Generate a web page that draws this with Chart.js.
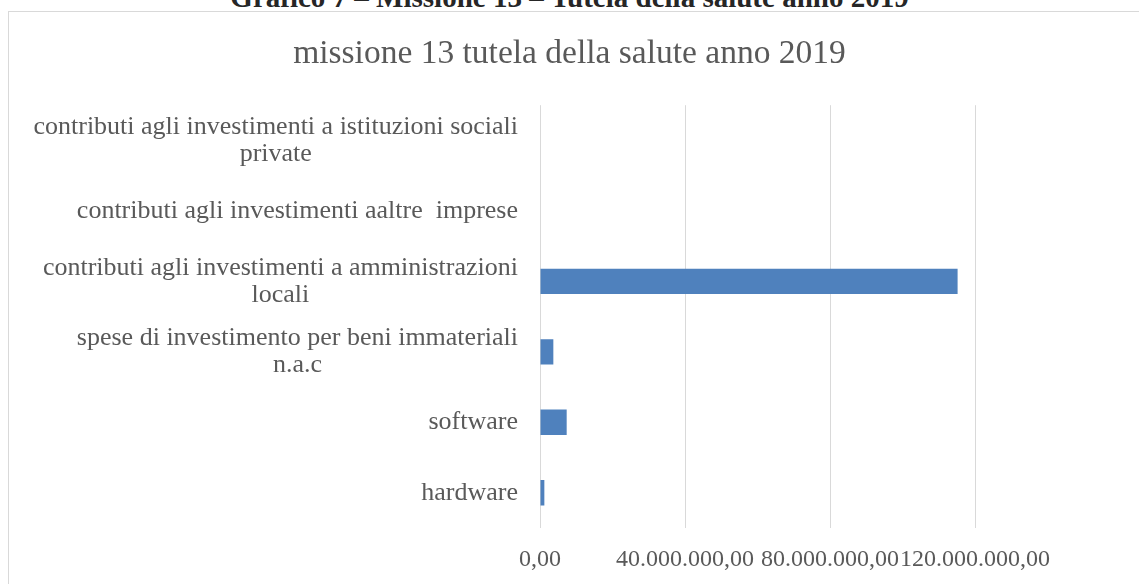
<!DOCTYPE html>
<html>
<head>
<meta charset="utf-8">
<title>missione 13 tutela della salute anno 2019</title>
<script src="https://cdn.jsdelivr.net/npm/chart.js@4.4.1/dist/chart.umd.min.js"></script>
<style>
  html, body { margin: 0; padding: 0; background: #fff; overflow: hidden; }
  .page { position: relative; width: 1139px; height: 584px; }
  .caption {
    position: absolute; left: 0; top: -17px; width: 1139px;
    text-align: center; white-space: nowrap;
    font: bold 29px/29px 'Liberation Serif', serif; color: #262626;
  }
  .frame {
    position: absolute; left: 8px; top: 11px; width: 1200px; height: 700px;
    border: 1px solid #d9d9d9; box-sizing: border-box;
  }
  #chart { position: absolute; left: 0; top: 0; }
</style>
</head>
<body>
<div class="page">
  <div class="caption">Grafico 7 – Missione 13 – Tutela della salute anno 2019</div>
  <div class="frame"></div>
  <canvas id="chart" width="1139" height="584"></canvas>
</div>
<script>
// categories, top to bottom
const categories = [
  ['contributi agli investimenti a istituzioni sociali', 'private'],
  'contributi agli investimenti aaltre  imprese',
  ['contributi agli investimenti a amministrazioni', 'locali'],
  ['spese di investimento per beni immateriali', 'n.a.c'],
  'software',
  'hardware'
];
const amounts = [0, 0, 115200000, 3680000, 7360000, 1200000];
const xTicks = [0, 40000000, 80000000, 120000000];

const FONT = "'Liberation Serif', serif";
const TEXT = '#595959';
const LABEL_SIZE = 26;
const LINE_H = 27;

// 1234567.5 -> "1.234.567,50"
function fmtIt(v) {
  const parts = Number(v).toFixed(2).split('.');
  return parts[0].replace(/\B(?=(\d{3})+(?!\d))/g, '.') + ',' + parts[1];
}

// category labels: block right-aligned to the axis, lines centred inside the block
const centeredYLabels = {
  id: 'centeredYLabels',
  afterDraw(chart) {
    const scale = chart.scales.y;
    const ctx = chart.ctx;
    ctx.save();
    ctx.font = LABEL_SIZE + 'px ' + FONT;
    ctx.fillStyle = TEXT;
    ctx.textAlign = 'center';
    ctx.textBaseline = 'middle';
    const right = chart.chartArea.left - 22;
    categories.forEach((label, i) => {
      const lines = Array.isArray(label) ? label : [label];
      const w = Math.max(...lines.map(l => ctx.measureText(l).width));
      const cx = right - w / 2;
      const top = scale.getPixelForValue(i) - (lines.length - 1) * LINE_H / 2;
      lines.forEach((l, k) => ctx.fillText(l, cx, top + k * LINE_H));
    });
    ctx.restore();
  }
};

new Chart(document.getElementById('chart'), {
  type: 'bar',
  data: {
    labels: categories,
    datasets: [{
      data: amounts,
      backgroundColor: '#4f81bd',
      barPercentage: 0.36,
      categoryPercentage: 1
    }]
  },
  options: {
    indexAxis: 'y',
    responsive: false,
    animation: false,
    // equal side padding keeps the title centred on the whole frame
    layout: { padding: { top: 0, right: 164, bottom: 0, left: 164 } },
    plugins: {
      legend: { display: false },
      tooltip: { enabled: false },
      title: {
        display: true,
        text: 'missione 13 tutela della salute anno 2019',
        color: TEXT,
        font: { family: FONT, size: 33.5, weight: 'normal' },
        padding: { top: 34, bottom: 31 }
      }
    },
    scales: {
      x: {
        min: 0,
        max: xTicks[xTicks.length - 1],
        afterBuildTicks: s => { s.ticks = xTicks.map(v => ({ value: v })); },
        ticks: {
          callback: v => fmtIt(v),
          color: TEXT,
          font: { family: FONT, size: 24 },
          padding: 17,
          maxRotation: 0,
          autoSkip: false
        },
        grid: { color: '#d9d9d9', lineWidth: 1, drawTicks: false },
        border: { display: false },
        afterFit: s => { s.height = 56; }
      },
      y: {
        ticks: { display: false },
        grid: { display: false },
        border: { display: false },
        afterFit: s => { s.width = 376; }
      }
    }
  },
  plugins: [centeredYLabels]
});
</script>
</body>
</html>
